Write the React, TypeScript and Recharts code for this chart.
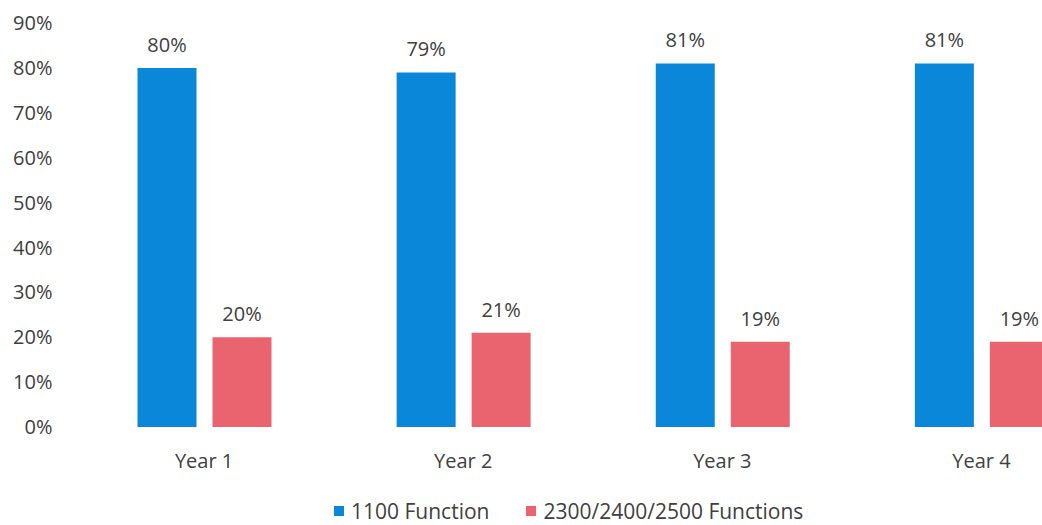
import { BarChart, Bar, XAxis, YAxis, Legend, LabelList } from "recharts";

const years = ["Year 1", "Year 2", "Year 3", "Year 4"];
const func1100 = [80, 79, 81, 81];
const func2300 = [20, 21, 19, 19];
const yTicks = [0, 10, 20, 30, 40, 50, 60, 70, 80, 90];

const BLUE = "#0b87d9";
const RED = "#e9646e";
const TEXT = "#404040";
const FONT = "'Open Sans', sans-serif";

const data = years.map((year, i) => ({
  year,
  a: func1100[i],
  b: func2300[i],
}));

const legendItems = [
  { name: "1100 Function", color: BLUE },
  { name: "2300/2400/2500 Functions", color: RED },
];

const ChartLegend = () => (
  <div
    style={{
      height: 30,
      boxSizing: "border-box",
      paddingTop: 2,
      paddingLeft: 334,
      display: "flex",
      alignItems: "center",
      fontFamily: FONT,
      fontSize: 21,
      lineHeight: "24px",
      color: TEXT,
    }}
  >
    {legendItems.map((it) => (
      <div
        key={it.name}
        style={{ display: "flex", alignItems: "center", marginRight: 37 }}
      >
        <span
          style={{
            width: 10,
            height: 10,
            background: it.color,
            display: "inline-block",
            marginRight: 7,
          }}
        />
        <span>{it.name}</span>
      </div>
    ))}
  </div>
);

export default function App() {
  return (
    <div style={{ position: "absolute", left: 0, top: 0, width: 1042, height: 525, overflow: "hidden", background: "#fff" }}>
      <BarChart
        width={1111}
        height={525}
        data={data}
        margin={{ top: 23, right: 0, left: 0, bottom: 0 }}
        barCategoryGap={63}
        barGap={16}
      >
        <XAxis
          dataKey="year"
          axisLine={false}
          tickLine={false}
          tickSize={0}
          tickMargin={27}
          height={68}
          tick={{ fill: TEXT, fontSize: 20, fontFamily: FONT }}
        />
        <YAxis
          domain={[0, 90]}
          ticks={yTicks}
          width={74.5}
          axisLine={false}
          tickLine={false}
          tickSize={0}
          tickMargin={22}
          tickFormatter={(v) => `${v}%`}
          tick={{ fill: TEXT, fontSize: 20, fontFamily: FONT }}
        />
        <Legend verticalAlign="bottom" content={<ChartLegend />} />
        <Bar dataKey="a" name="1100 Function" fill={BLUE} isAnimationActive={false}>
          <LabelList
            dataKey="a"
            position="top"
            offset={16}
            formatter={(v: any) => `${v}%`}
            style={{ fill: TEXT, fontSize: 20, fontFamily: FONT }}
          />
        </Bar>
        <Bar dataKey="b" name="2300/2400/2500 Functions" fill={RED} isAnimationActive={false}>
          <LabelList
            dataKey="b"
            position="top"
            offset={16}
            formatter={(v: any) => `${v}%`}
            style={{ fill: TEXT, fontSize: 20, fontFamily: FONT }}
          />
        </Bar>
      </BarChart>
    </div>
  );
}
